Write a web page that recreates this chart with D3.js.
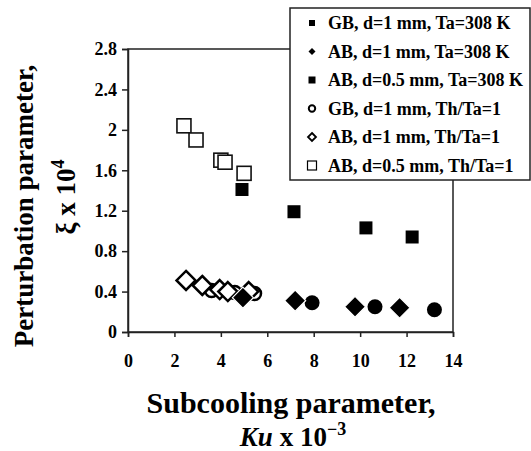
<!DOCTYPE html>
<html><head><meta charset="utf-8">
<script src="https://cdn.jsdelivr.net/npm/d3@7"></script>
<style>
html,body{margin:0;padding:0;background:#fff;}
svg text{font-family:"Liberation Serif","Times New Roman",serif;font-weight:bold;fill:#000;}
</style></head>
<body><svg id="c" width="531" height="451"></svg>
<script>
// ---- data ----
const xTicks = [0, 2, 4, 6, 8, 10, 12, 14];
const yTicks = [0, 0.4, 0.8, 1.2, 1.6, 2, 2.4, 2.8];
const yTickLabels = ["0", "0.4", "0.8", "1.2", "1.6", "2", "2.4", "2.8"];

const seriesNames = [
  "GB, d=1 mm, Ta=308 K",
  "AB, d=1 mm, Ta=308 K",
  "AB, d=0.5 mm, Ta=308 K",
  "GB, d=1 mm, Th/Ta=1",
  "AB, d=1 mm, Th/Ta=1",
  "AB, d=0.5 mm, Th/Ta=1"
];
// GB, d=1 mm, Ta=308 K
const gbTaX = [7.93, 10.64, 13.2];
const gbTaY = [0.29, 0.25, 0.22];
// AB, d=1 mm, Ta=308 K
const ab1TaX = [4.95, 7.2, 9.78, 11.7];
const ab1TaY = [0.34, 0.31, 0.25, 0.24];
// AB, d=0.5 mm, Ta=308 K
const ab05TaX = [4.91, 7.15, 10.25, 12.24];
const ab05TaY = [1.41, 1.19, 1.03, 0.94];
// GB, d=1 mm, Th/Ta=1
const gbThX = [3.6, 4.6, 5.45];
const gbThY = [0.41, 0.39, 0.38];
// AB, d=1 mm, Th/Ta=1
const ab1ThX = [2.5, 3.2, 3.95, 4.3, 5.2];
const ab1ThY = [0.51, 0.46, 0.42, 0.40, 0.40];
// AB, d=0.5 mm, Th/Ta=1
const ab05ThX = [2.41, 2.93, 4.0, 4.18, 5.0];
const ab05ThY = [2.04, 1.90, 1.70, 1.68, 1.57];

// ---- layout ----
const svg = d3.select("#c");
const L = 128, R = 453, T = 49, B = 332;
const x = d3.scaleLinear().domain([0, 14]).range([L, R]);
const y = d3.scaleLinear().domain([0, 2.8]).range([B, T]);

// frame
svg.append("rect").attr("x", L).attr("y", T).attr("width", R - L).attr("height", B - T)
  .attr("fill", "none").attr("stroke", "#222").attr("stroke-width", 1.5);

const xa = svg.append("g").attr("transform", `translate(0,${B})`)
  .call(d3.axisBottom(x).tickValues(xTicks).tickSize(5).tickPadding(17).tickFormat(d3.format("d")));
const ya = svg.append("g").attr("transform", `translate(${L},0)`)
  .call(d3.axisLeft(y).tickValues(yTicks).tickSize(6).tickPadding(5).tickFormat((d, i) => yTickLabels[i]));
[xa, ya].forEach(g => {
  g.select(".domain").attr("stroke", "#222").attr("stroke-width", 1.5);
  g.selectAll(".tick line").attr("stroke", "#222").attr("stroke-width", 1.5);
  g.selectAll("text").style("font-family", '"Liberation Serif",serif').style("font-weight", "bold")
    .style("font-size", "18px").attr("fill", "#000");
});

// markers
const diamond = s => `M0,${-s}L${s},0L0,${s}L${-s},0Z`;
function pts(xs, ys) { return xs.map((v, i) => [v, ys[i]]); }

const g = svg.append("g");
// open squares
g.selectAll(".os").data(pts(ab05ThX, ab05ThY)).join("rect")
  .attr("x", d => x(d[0]) - 7).attr("y", d => y(d[1]) - 7).attr("width", 14).attr("height", 14)
  .attr("fill", "#fff").attr("stroke", "#111").attr("stroke-width", 1.6);
// filled squares
g.selectAll(".fs").data(pts(ab05TaX, ab05TaY)).join("rect")
  .attr("x", d => x(d[0]) - 6.5).attr("y", d => y(d[1]) - 6.5).attr("width", 13).attr("height", 13)
  .attr("fill", "#000");
// open circles
g.selectAll(".oc").data(pts(gbThX, gbThY)).join("circle")
  .attr("cx", d => x(d[0])).attr("cy", d => y(d[1])).attr("r", 6.5)
  .attr("fill", "#fff").attr("stroke", "#000").attr("stroke-width", 2.5);
// open diamonds
g.selectAll(".od").data(pts(ab1ThX, ab1ThY)).join("path")
  .attr("transform", d => `translate(${x(d[0])},${y(d[1])})`).attr("d", diamond(9.5))
  .attr("fill", "#fff").attr("stroke", "#000").attr("stroke-width", 2.5);
// filled circles
g.selectAll(".fc").data(pts(gbTaX, gbTaY)).join("circle")
  .attr("cx", d => x(d[0])).attr("cy", d => y(d[1])).attr("r", 7.5).attr("fill", "#000");
// filled diamonds
g.selectAll(".fd").data(pts(ab1TaX, ab1TaY)).join("path")
  .attr("transform", d => `translate(${x(d[0])},${y(d[1])})`).attr("d", diamond(10.5))
  .attr("fill", "#000").attr("stroke", "#fff").attr("stroke-width", 1.2);

// legend
const lg = svg.append("g");
lg.append("rect").attr("x", 290).attr("y", 8).attr("width", 240).attr("height", 172)
  .attr("fill", "#fff").attr("stroke", "#222").attr("stroke-width", 1.5);
const rowY = d3.range(6).map(i => 23 + i * 28.5);
const mx = 312;
const legMarkers = [
  (s) => s.append("rect").attr("x", -3).attr("y", -3).attr("width", 6).attr("height", 6).attr("fill", "#000"),
  (s) => s.append("path").attr("d", diamond(3.5)).attr("fill", "#000"),
  (s) => s.append("rect").attr("x", -3.5).attr("y", -3.5).attr("width", 7).attr("height", 7).attr("fill", "#000"),
  (s) => s.append("circle").attr("r", 3.2).attr("fill", "#fff").attr("stroke", "#000").attr("stroke-width", 2),
  (s) => s.append("path").attr("d", diamond(4)).attr("fill", "#fff").attr("stroke", "#000").attr("stroke-width", 1.8),
  (s) => s.append("rect").attr("x", -4.5).attr("y", -4.5).attr("width", 9).attr("height", 9).attr("fill", "#fff").attr("stroke", "#000").attr("stroke-width", 1.2)
];
seriesNames.forEach((n, i) => {
  const r = lg.append("g").attr("transform", `translate(${mx},${rowY[i]})`);
  legMarkers[i](r);
  r.append("text").attr("x", 16).attr("y", 6).style("font-size", "18px").text(n);
});

// axis titles
svg.append("text").attr("text-anchor", "middle")
  .attr("transform", "translate(33,206) rotate(-90)").style("font-size", "27px").text("Perturbation parameter,");
const yt2 = svg.append("text").attr("text-anchor", "middle")
  .attr("transform", "translate(75,197) rotate(-90)").style("font-size", "27px");
yt2.append("tspan").text("ξ x 10");
yt2.append("tspan").attr("dy", -11).style("font-size", "18px").text("4");

svg.append("text").attr("text-anchor", "middle").attr("x", 291).attr("y", 413)
  .style("font-size", "30px").text("Subcooling parameter,");
const xt2 = svg.append("text").attr("text-anchor", "middle").attr("x", 293).attr("y", 446).style("font-size", "27px");
xt2.append("tspan").style("font-style", "italic").text("Ku");
xt2.append("tspan").text(" x 10");
xt2.append("tspan").attr("dy", -11).style("font-size", "18px").text("−3");
</script></body></html>
